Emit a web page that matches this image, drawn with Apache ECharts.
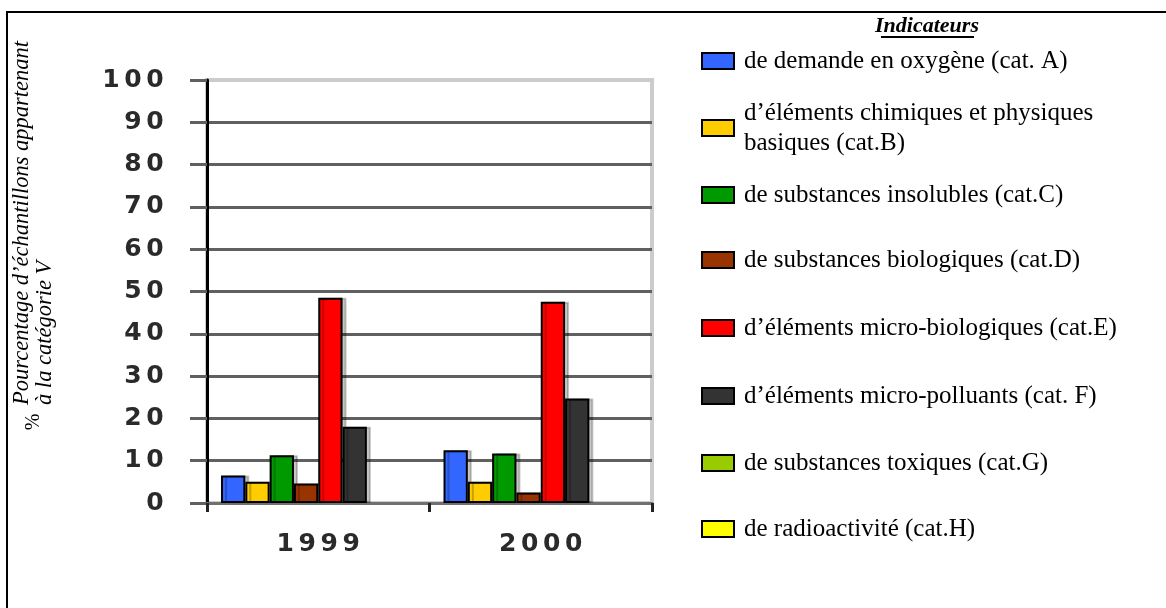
<!DOCTYPE html>
<html>
<head>
<meta charset="utf-8">
<title>Indicateurs – catégorie V</title>
<script src="https://cdn.jsdelivr.net/npm/echarts@6/dist/echarts.min.js"></script>
<style>
  html, body { margin: 0; padding: 0; background: #fff; }
  #chart { width: 1166px; height: 608px; }
</style>
</head>
<body>
<div id="chart"></div>
<script>
// Years on the category axis
const years = ['1999', '2000'];

// Indicator names (legend labels)
const indicatorNames = [
  'de demande en oxygène (cat. A)',
  'd’éléments chimiques et physiques basiques (cat.B)',
  'de substances insolubles (cat.C)',
  'de substances biologiques (cat.D)',
  'd’éléments micro-biologiques (cat.E)',
  'd’éléments micro-polluants (cat. F)',
  'de substances toxiques (cat.G)',
  'de radioactivité (cat.H)'
];

// Share of samples in category V (%) per indicator, for 1999 and 2000
const catA = [6.5, 12.5];
const catB = [5.0, 5.0];
const catC = [11.3, 11.7];
const catD = [4.6, 2.5];
const catE = [48.5, 47.6];
const catF = [18.0, 24.7];
const catG = [null, null];
const catH = [null, null];

// Value axis range and step (tick labels 0, 10, ... 100)
const yMin = 0;
const yMax = 100;
const yStep = 10;

// ---- styling ----
const seriesValues = [catA, catB, catC, catD, catE, catF, catG, catH];
const barColors = ['#3366ff', '#ffcc00', '#009900', '#993300', '#ff0000', '#333333', '#99cc00', '#ffff00'];
const legendIconCenters = [61, 128, 195, 260, 328, 396, 463, 529];

const serif = '"Liberation Serif", "Times New Roman", serif';
const tickFont = { fontFamily: '"DejaVu Sans", Verdana, sans-serif', fontSize: 25, fontWeight: 'bold', color: '#2a2a2a' };

// spread every character of a tick label over a fixed-width cell
function spreadLabel(v) {
  return String(v).split('').map(c => '{d|' + c + '}').join('');
}
const spreadRich = { d: Object.assign({ width: 22, align: 'center' }, tickFont) };

const chart = echarts.init(document.getElementById('chart'), null, { renderer: 'canvas' });

const series = indicatorNames.map((name, i) => ({
  name: name,
  type: 'bar',
  data: seriesValues[i],
  barGap: '0%',
  barCategoryGap: '12.6%',
  itemStyle: {
    color: barColors[i],
    borderColor: '#000',
    borderWidth: 2,
    shadowColor: 'rgba(0,0,0,0.22)',
    shadowOffsetX: 4,
    shadowOffsetY: 0,
    shadowBlur: 0
  },
  emphasis: { disabled: true },
  animation: false
}));

const legends = indicatorNames.map((name, i) => {
  const twoLines = name.indexOf('physiques ') >= 0;
  return {
    data: [name],
    left: 701,
    top: legendIconCenters[i] - (twoLines ? 45 : 15),
    orient: 'vertical',
    padding: 0,
    icon: 'rect',
    itemWidth: 32,
    itemHeight: 16,
    selectedMode: false,
    formatter: twoLines ? (n => n.replace('physiques ', 'physiques\n')) : undefined,
    itemStyle: { shadowBlur: 0, shadowOffsetX: 0, shadowColor: 'transparent' },
    textStyle: {
      fontFamily: serif,
      fontSize: 25,
      lineHeight: 30,
      color: '#000',
      padding: twoLines ? [30, 0, 0, 5] : [0, 0, 0, 5]
    }
  };
});

const gridLineColors = [];
for (let v = yMin; v <= yMax; v += yStep) {
  gridLineColors.push(v === yMax ? '#cccccc' : '#606060');
}

chart.setOption({
  backgroundColor: '#ffffff',
  animation: false,
  grid: {
    left: 207, right: 514, top: 80, bottom: 105,
    show: true,
    borderColor: '#cccccc',
    borderWidth: 4,
    backgroundColor: 'transparent'
  },
  legend: legends,
  xAxis: {
    type: 'category',
    data: years,
    axisLine: { lineStyle: { color: '#707070', width: 3 } },
    axisTick: { show: true, length: 9, alignWithLabel: false, lineStyle: { color: '#222', width: 3 } },
    axisLabel: { margin: 29, formatter: spreadLabel, rich: spreadRich },
    splitLine: { show: false }
  },
  yAxis: {
    type: 'value',
    min: yMin,
    max: yMax,
    interval: yStep,
    axisLine: { show: true, onZero: false, lineStyle: { color: '#000', width: 3 } },
    axisTick: { show: true, length: 17, lineStyle: { color: '#606060', width: 3 } },
    axisLabel: { margin: 41, formatter: spreadLabel, rich: spreadRich },
    splitLine: { show: true, lineStyle: { color: gridLineColors, width: 3 } }
  },
  series: series,
  graphic: [
    // frame
    { type: 'line', shape: { x1: 7, y1: 12, x2: 7, y2: 608 }, style: { stroke: '#000', lineWidth: 2 } },
    { type: 'line', shape: { x1: 6, y1: 12, x2: 1166, y2: 12 }, style: { stroke: '#000', lineWidth: 2 } },
    // value-axis title
    {
      type: 'text', x: 11, y: 405, rotation: Math.PI / 2,
      style: {
        text: 'Pourcentage d’échantillons appartenant\nà la catégorie V',
        fontFamily: serif, fontStyle: 'italic', fontSize: 22.5, lineHeight: 23,
        fill: '#000', align: 'left', verticalAlign: 'top'
      }
    },
    {
      type: 'text', x: 34, y: 422, rotation: Math.PI / 2,
      style: {
        text: '%', fontFamily: serif, fontSize: 20, fill: '#000',
        align: 'center', verticalAlign: 'middle'
      }
    },
    // legend title
    {
      type: 'text', x: 927, y: 26,
      style: {
        text: 'Indicateurs', fontFamily: serif, fontStyle: 'italic', fontWeight: 'bold',
        fontSize: 22, fill: '#000', align: 'center', verticalAlign: 'middle'
      }
    },
    { type: 'line', shape: { x1: 881, y1: 37, x2: 974, y2: 37 }, style: { stroke: '#000', lineWidth: 2 } }
  ]
});
</script>
</body>
</html>
